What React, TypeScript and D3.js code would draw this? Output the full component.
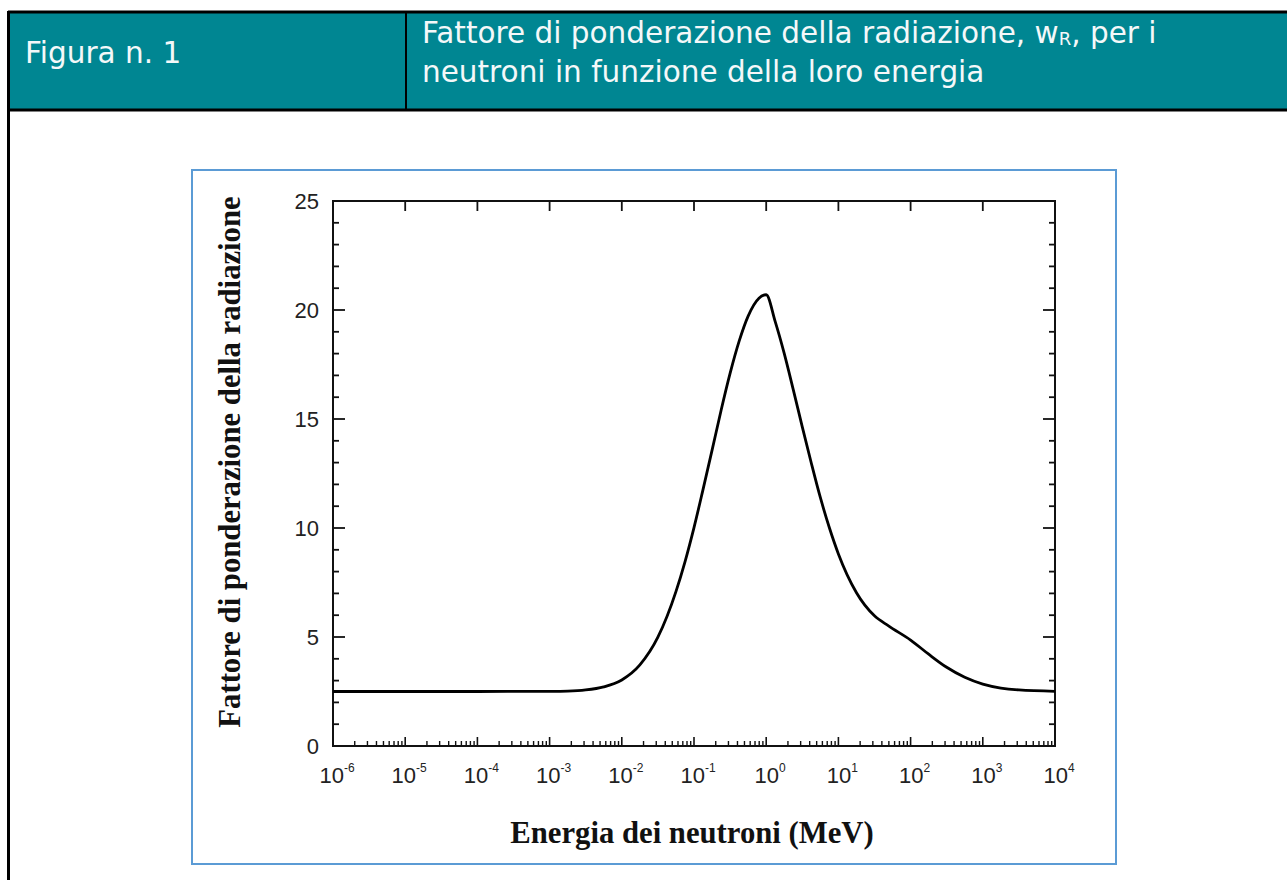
import * as d3 from 'd3';
import { useEffect, useRef } from 'react';

// energia (MeV) e fattore wR
const energies = [
  1e-6, 1e-5, 1e-4, 1e-3, 0.00178, 0.00316, 0.00562, 0.01, 0.0178, 0.0316,
  0.0562, 0.075, 0.1, 0.133, 0.178, 0.237, 0.316, 0.422, 0.562, 0.794,
  1, 1.33, 1.78, 2.37, 3.16, 4.22, 5.62, 7.5, 10, 17.8,
  31.6, 50, 100, 178, 316, 562, 1000, 1778, 3162, 10000,
];
const wR = [
  2.5, 2.5, 2.5, 2.51, 2.52, 2.57, 2.71, 3.03, 3.72, 4.99,
  7.08, 8.45, 10.02, 11.75, 13.57, 15.39, 17.09, 18.57, 19.72, 20.54,
  20.7, 19.48, 18.0, 16.35, 14.64, 12.97, 11.4, 10.01, 8.81, 7.03,
  5.97, 5.5, 4.86, 4.21, 3.61, 3.15, 2.84, 2.66, 2.57, 2.51,
];
const yTicks = [0, 5, 10, 15, 20, 25];
const decades = [-6, -5, -4, -3, -2, -1, 0, 1, 2, 3, 4];

const headerLeft = 'Figura n. 1';
const headerLine1 = 'Fattore di ponderazione della radiazione, w';
const headerLine1b = ', per i';
const headerLine2 = 'neutroni in funzione della loro energia';
const xTitle = 'Energia dei neutroni (MeV)';
const yTitle = 'Fattore di ponderazione della radiazione';

const W = 1287;
const H = 880;
const TEAL = '#008692';

export default function App() {
  const ref = useRef<SVGSVGElement>(null);

  useEffect(() => {
    if (!ref.current) return;
    const svg = d3.select(ref.current);
    svg.selectAll('*').remove();

    // intestazione
    svg.append('rect').attr('x', 8).attr('y', 12).attr('width', W - 8).attr('height', 98).attr('fill', TEAL);
    svg.append('line').attr('x1', 8).attr('x2', W).attr('y1', 12).attr('y2', 12).attr('stroke', '#000').attr('stroke-width', 3);
    svg.append('line').attr('x1', 8).attr('x2', W).attr('y1', 110).attr('y2', 110).attr('stroke', '#000').attr('stroke-width', 3);
    svg.append('line').attr('x1', 8.5).attr('x2', 8.5).attr('y1', 11).attr('y2', H).attr('stroke', '#000').attr('stroke-width', 3);
    svg.append('line').attr('x1', 406).attr('x2', 406).attr('y1', 12).attr('y2', 110).attr('stroke', '#000').attr('stroke-width', 2);

    const hFont = '"DejaVu Sans", Verdana, sans-serif';
    const hSize = 29.5;
    svg.append('text').attr('x', 25).attr('y', 63).attr('fill', '#f4f8f9')
      .attr('font-family', hFont).attr('font-size', hSize).text(headerLeft);
    const t1 = svg.append('text').attr('x', 422).attr('y', 43).attr('fill', '#f4f8f9')
      .attr('font-family', hFont).attr('font-size', hSize);
    t1.append('tspan').text(headerLine1);
    t1.append('tspan').attr('font-size', 18).attr('dy', 2).text('R');
    t1.append('tspan').attr('dy', -2).text(headerLine1b);
    svg.append('text').attr('x', 422).attr('y', 82).attr('fill', '#f4f8f9')
      .attr('font-family', hFont).attr('font-size', hSize).text(headerLine2);

    // cornice blu
    svg.append('rect').attr('x', 192).attr('y', 170).attr('width', 924).attr('height', 694)
      .attr('fill', 'none').attr('stroke', '#5b9bd5').attr('stroke-width', 2);

    const m = { left: 333, right: 1055, top: 201, bottom: 746 };
    const x = d3.scaleLog().domain([1e-6, 1e4]).range([m.left, m.right]);
    const y = d3.scaleLinear().domain([0, 25]).range([m.bottom, m.top]);

    const g = svg.append('g');
    const ink = '#111';

    // tacche asse x (basso: decadi e minori 2..9, alto: solo decadi)
    decades.forEach((d) => {
      const px = x(Math.pow(10, d));
      g.append('line').attr('x1', px).attr('x2', px).attr('y1', m.bottom).attr('y2', m.bottom - 9)
        .attr('stroke', ink).attr('stroke-width', 1.6);
      if (px > m.left + 1 && px < m.right - 1) {
        g.append('line').attr('x1', px).attr('x2', px).attr('y1', m.top).attr('y2', m.top + 10)
          .attr('stroke', ink).attr('stroke-width', 1.8);
      }
      if (d < 4) {
        d3.range(2, 10).forEach((k) => {
          const mx = x(k * Math.pow(10, d));
          g.append('line').attr('x1', mx).attr('x2', mx).attr('y1', m.bottom).attr('y2', m.bottom - 5)
            .attr('stroke', ink).attr('stroke-width', 1.4);
        });
      }
    });

    // tacche asse y (sinistra e destra)
    d3.range(0, 26).forEach((v) => {
      const isMajor = v % 5 === 0;
      const py = y(v);
      const len = isMajor ? 12 : 6;
      g.append('line').attr('x1', m.left).attr('x2', m.left + len).attr('y1', py).attr('y2', py)
        .attr('stroke', ink).attr('stroke-width', 1.8);
      g.append('line').attr('x1', m.right).attr('x2', m.right - len).attr('y1', py).attr('y2', py)
        .attr('stroke', ink).attr('stroke-width', 1.8);
    });

    g.append('rect').attr('x', m.left).attr('y', m.top).attr('width', m.right - m.left).attr('height', m.bottom - m.top)
      .attr('fill', 'none').attr('stroke', ink).attr('stroke-width', 2);

    const lblFont = '"Liberation Sans", Arial, sans-serif';
    yTicks.forEach((v) => {
      g.append('text').attr('x', 319).attr('y', y(v)).attr('dy', '0.36em').attr('text-anchor', 'end')
        .attr('font-family', lblFont).attr('font-size', 22).attr('fill', '#222').text(v);
    });

    decades.forEach((d) => {
      const t = g.append('text').attr('x', x(Math.pow(10, d)) + 4).attr('y', 783).attr('text-anchor', 'middle')
        .attr('font-family', lblFont).attr('font-size', 22).attr('fill', '#222');
      t.append('tspan').text('10');
      t.append('tspan').attr('font-size', 12).attr('dy', -11).text(d);
    });

    // titoli assi
    const titleFont = '"Liberation Serif", "Times New Roman", serif';
    g.append('text').attr('x', 692).attr('y', 843).attr('text-anchor', 'middle')
      .attr('font-family', titleFont).attr('font-weight', 'bold').attr('font-size', 30.7).attr('fill', '#111').text(xTitle);
    g.append('text').attr('transform', 'translate(240,462) rotate(-90)').attr('text-anchor', 'middle')
      .attr('font-family', titleFont).attr('font-weight', 'bold').attr('font-size', 30.7).attr('fill', '#111').text(yTitle);

    // curva
    const pts: [number, number][] = energies.map((e, i) => [e, wR[i]]);
    const line = d3.line<[number, number]>()
      .x((d) => x(d[0]))
      .y((d) => y(d[1]))
      .curve(d3.curveMonotoneX);
    g.append('path').attr('d', line(pts)).attr('fill', 'none').attr('stroke', '#000')
      .attr('stroke-width', 2.8).attr('stroke-linejoin', 'round');
  }, []);

  return (
    <svg
      ref={ref}
      width={W}
      height={H}
      style={{ position: 'absolute', left: 0, top: 0, display: 'block', background: '#fff' }}
    />
  );
}
